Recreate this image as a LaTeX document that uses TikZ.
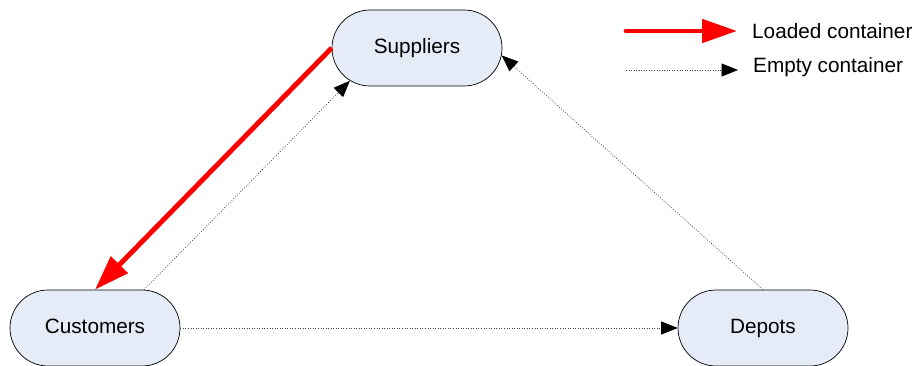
\documentclass[tikz,border=0pt]{standalone}
\usepackage{fontspec}
\setmainfont{Liberation Sans}
\usepackage{xcolor}
\usepackage{tikz}
\usetikzlibrary{arrows.meta,shapes.misc,calc}

\definecolor{boxfill}{HTML}{E6ECF7}

\begin{document}
\begin{tikzpicture}[font=\fontsize{11.8}{14}\selectfont,
                place/.style={rounded rectangle, draw, thin, fill=boxfill,
                              minimum width=3.4cm, minimum height=1.52cm, inner sep=0pt,
                              text height=1.6ex, text depth=0.45ex},
                loaded/.style={draw=red, line width=2.8pt,
                               -{Triangle[length=0.7cm,width=0.46cm]}},
                empty/.style={draw=black!75, densely dotted, line width=0.45pt,
                              -{Triangle[length=0.33cm,width=0.26cm,black]}}]
		\useasboundingbox (0,0) rectangle (18.36,7.3);
		\begin{scope}
			\node [place] (sup) at (8.34,6.34) {Suppliers};
			\node [place] (cus) at (1.9,0.74) {Customers};
			\node [place] (dep) at (15.26,0.74) {Depots};

		    	\path (sup.west) edge [loaded] (cus.north)
			      (cus.38) edge [empty] (sup.-154)
			      (cus.east) edge [empty] (dep.west)
			      (dep.north) edge [empty] (sup.-5);
		\end{scope}
		% legend
		\coordinate (l1) at (12.52,6.68);
		\coordinate (l2) at (14.74,6.68);
		\coordinate (e1) at (12.52,5.9);
		\coordinate (e2) at (14.76,5.9);
		\path (l1) edge [loaded, line cap=round] (l2)
		      (e1) edge [empty] (e2);
		\node [anchor=west] (lt) at (14.92,6.68) {Loaded container};
		\node [anchor=west] (et) at (14.94,5.96) {Empty container};
		\end{tikzpicture}
\end{document}
